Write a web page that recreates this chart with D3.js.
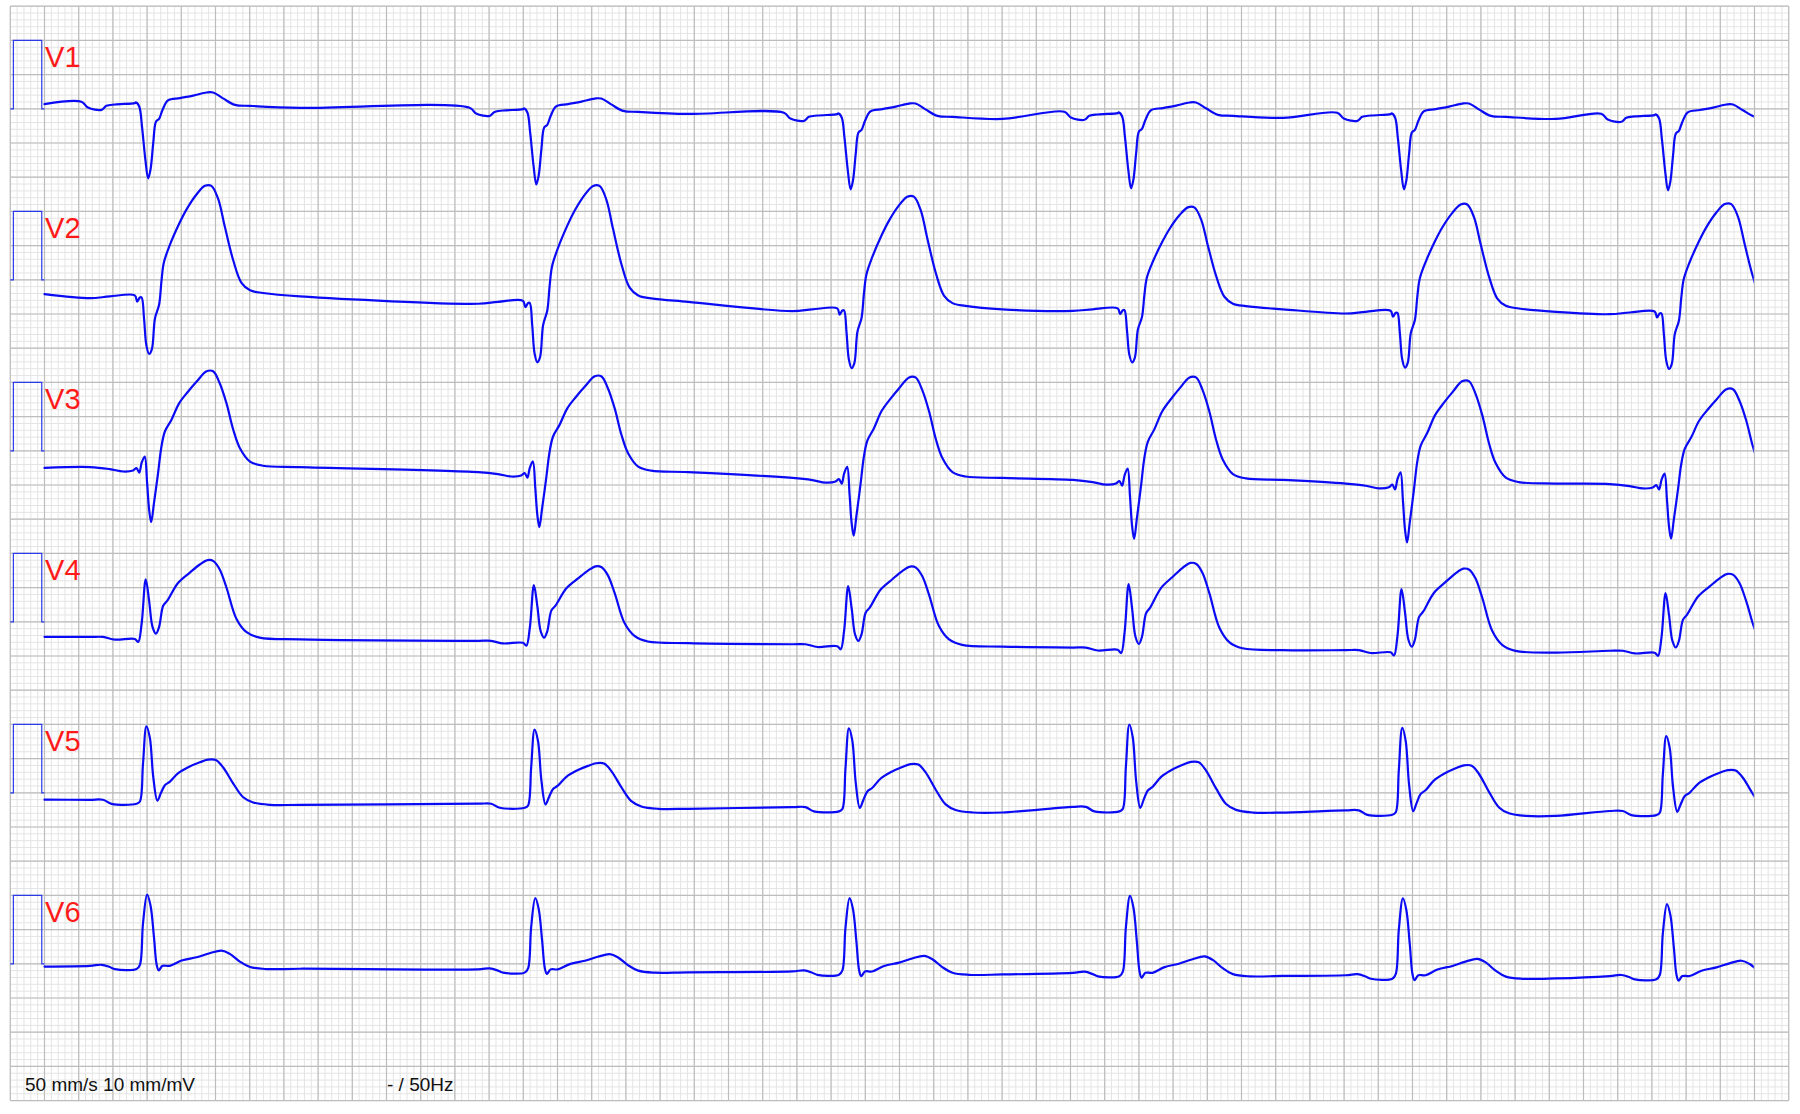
<!DOCTYPE html>
<html><head><meta charset="utf-8">
<script src="https://cdn.jsdelivr.net/npm/d3@7"></script>
<style>html,body{margin:0;padding:0;background:#fff}</style>
</head><body>
<svg id="c" width="1800" height="1114"></svg>
<script>
// ---------- data ----------
const leadNames = ["V1","V2","V3","V4","V5","V6"];
const beatTimes = [0.403, 1.538, 2.457, 3.277, 4.075, 4.847];   // s, QRS fiducial
const traceStartTime = 0.1;
const traceEndTime = 5.098;
const startValues = [0.069, -0.21, -0.25, -0.22, -0.10, -0.04]; // mV at trace start
const calPulse = [[0,0],[0.009,0],[0.009,1],[0.092,1],[0.092,0],[0.1,0]];

// beat templates: [ms from QRS, mV relative to beat baseline]
const templateV1 = [[-195,0.03],[-176,-0.055],[-136,-0.088],[-122,-0.03],[-97,-0.01],[-39,0.01],[-36,0.02],[-26,-0.04],[-18,-0.33],[-8,-0.82],[0,-1.09],[7,-0.96],[15,-0.57],[23,-0.26],[32,-0.22],[42,-0.09],[58,0.05],[93,0.084],[132,0.12],[171,0.165],[190,0.165],[219,0.08],[254,-0.015],[298,-0.03],[444,-0.06]];
const templateV2 = [[-170,-0.04],[-112,-0.015],[-39,0],[-32,-0.088],[-24,-0.03],[-19,-0.03],[-12,-0.33],[-5,-0.72],[3,-0.84],[11,-0.77],[20,-0.33],[32,-0.135],[39,0.205],[46,0.47],[63,0.716],[91,1.03],[112,1.23],[142,1.45],[166,1.57],[185,1.57],[205,1.38],[224,0.99],[249,0.50],[273,0.18],[298,0.073],[336,0.034],[444,-0.015]];
const templateV3 = [[-170,0.04],[-112,0.01],[-73,-0.025],[-44,-0.01],[-34,0.025],[-26,-0.04],[-19,0.10],[-10,0.195],[-3,-0.19],[3,-0.585],[9,-0.765],[17,-0.49],[29,-0.05],[39,0.34],[49,0.56],[68,0.73],[91,0.975],[117,1.145],[142,1.29],[171,1.44],[190,1.44],[209,1.27],[229,0.975],[249,0.585],[268,0.32],[298,0.12],[336,0.06],[444,0.04]];
const templateV4 = [[-170,0.03],[-132,0.03],[-97,-0.01],[-39,0],[-29,-0.044],[-19,0.225],[-7,0.88],[3,0.56],[13,0.175],[23,0.078],[32,0.175],[44,0.49],[56,0.565],[88,0.83],[122,0.98],[151,1.10],[174,1.165],[191,1.15],[209,1.03],[229,0.76],[258,0.30],[288,0.10],[326,0.02],[444,-0.005]];
const templateV5 = [[-170,0.06],[-132,0.06],[-107,0],[-34,0],[-24,0.034],[-15,0.595],[-5,1.155],[5,0.985],[15,0.40],[27,0.048],[37,0.156],[49,0.278],[63,0.326],[88,0.458],[117,0.546],[151,0.619],[175,0.658],[198,0.653],[219,0.546],[249,0.302],[278,0.098],[307,0.02],[356,-0.015],[444,-0.015]];
const templateV6 = [[-170,0.048],[-136,0.063],[-112,0.03],[-97,0],[-34,0],[-24,0.063],[-15,0.672],[-3,1.10],[7,0.94],[17,0.475],[25,0.063],[31,-0.02],[42,0.048],[63,0.048],[98,0.126],[142,0.175],[180,0.234],[215,0.272],[239,0.224],[268,0.111],[298,0.03],[346,0],[444,0.005]];

// per-beat baseline (mV, relative to calibration level)
const baselinesV1 = [0.073, -0.015, -0.088, -0.073, -0.088, -0.102];
const baselinesV2 = [-0.228, -0.307, -0.417, -0.417, -0.453, -0.463];
const baselinesV3 = [-0.278, -0.351, -0.439, -0.468, -0.522, -0.526];
const baselinesV4 = [-0.251, -0.307, -0.358, -0.409, -0.446, -0.453];
const baselinesV5 = [-0.161, -0.219, -0.272, -0.272, -0.322, -0.326];
const baselinesV6 = [-0.077, -0.129, -0.161, -0.183, -0.219, -0.227];

// per-beat amplitude factor
const ampV1 = [1, 1, 1, 1, 1, 1];
const ampV2 = [1.02, 1.07, 1.04, 0.94, 0.99, 1.0];
const ampV3 = [1.0, 1.0, 1.05, 1.07, 1.07, 0.99];
const ampV4 = [0.99, 0.96, 1.0, 1.09, 1.05, 0.99];
const ampV5 = [0.98, 0.99, 1.05, 1.1, 1.1, 1.0];
const ampV6 = [0.99, 0.99, 1.02, 1.07, 1.07, 1.0];

const footerLeft = "50 mm/s 10 mm/mV";
const footerRight = "- / 50Hz";

// ---------- layout ----------
const sq = 34.2;               // one big square (0.1 s, 0.5 mV)
const gx0 = 10.3, gy0 = 6.2;
const nCols = 52, nRows = 32;
const leadGap = 2.5;           // mV between lead baselines

const templates = [templateV1, templateV2, templateV3, templateV4, templateV5, templateV6];
const baselines = [baselinesV1, baselinesV2, baselinesV3, baselinesV4, baselinesV5, baselinesV6];
const amps = [ampV1, ampV2, ampV3, ampV4, ampV5, ampV6];

const x = d3.scaleLinear().domain([0, nCols * 0.1]).range([gx0, gx0 + nCols * sq]);
const y = d3.scaleLinear().domain([1.5, 1.5 - nRows * 0.5]).range([gy0, gy0 + nRows * sq]);

const svg = d3.select("#c");
svg.append("rect").attr("width", 1800).attr("height", 1114).attr("fill", "#fff");

// grid
const grid = svg.append("g");
const minorT = d3.range(0, nCols * 5 + 1).map(i => i * 0.02);
const minorV = d3.range(0, nRows * 5 + 1).map(i => 1.5 - i * 0.1);
const majorT = d3.range(0, nCols + 1).map(i => i * 0.1);
const majorV = d3.range(0, nRows + 1).map(i => 1.5 - i * 0.5);

grid.selectAll("line.mt").data(minorT).join("line")
  .attr("x1", d => x(d)).attr("x2", d => x(d)).attr("y1", y.range()[0]).attr("y2", y.range()[1])
  .attr("stroke", "#e4e4e4").attr("stroke-width", 1);
grid.selectAll("line.mv").data(minorV).join("line")
  .attr("y1", d => y(d)).attr("y2", d => y(d)).attr("x1", x.range()[0]).attr("x2", x.range()[1])
  .attr("stroke", "#e4e4e4").attr("stroke-width", 1);
const gMaj = svg.append("g");
gMaj.selectAll("line").data(majorT).join("line")
  .attr("x1", d => x(d)).attr("x2", d => x(d)).attr("y1", y.range()[0]).attr("y2", y.range()[1])
  .attr("stroke", "#bdbdbd").attr("stroke-width", 1.2);
const gMaj2 = svg.append("g");
gMaj2.selectAll("line").data(majorV).join("line")
  .attr("y1", d => y(d)).attr("y2", d => y(d)).attr("x1", x.range()[0]).attr("x2", x.range()[1])
  .attr("stroke", "#bdbdbd").attr("stroke-width", 1.2);

// clip for traces
svg.append("clipPath").attr("id", "tclip").append("rect")
  .attr("x", x(traceStartTime) - 2).attr("y", 0)
  .attr("width", x(traceEndTime) - x(traceStartTime) + 2).attr("height", 1114);

const line = d3.line().x(d => x(d[0])).y(d => y(d[1])).curve(d3.curveCatmullRom.alpha(0.5));
const calLine = d3.line().x(d => x(d[0])).y(d => y(d[1]));

leadNames.forEach((name, i) => {
  const off = -i * leadGap;
  // calibration pulse
  svg.append("path")
    .attr("d", calLine(calPulse.map(p => [p[0], p[1] + off])))
    .attr("fill", "none").attr("stroke", "#2b3be6").attr("stroke-width", 1.2);
  // label
  svg.append("text")
    .attr("x", x(0.1017)).attr("y", y(off + 0.604))
    .attr("fill", "#ff1a1a").attr("font-family", "Liberation Sans, Arial, sans-serif")
    .attr("font-size", 29).text(name);
  // trace points
  const pts = [[traceStartTime, startValues[i] + off]];
  beatTimes.forEach((bt, b) => {
    templates[i].forEach(p => {
      pts.push([bt + p[0] / 1000, baselines[i][b] + p[1] * amps[i][b] + off]);
    });
  });
  svg.append("path")
    .attr("clip-path", "url(#tclip)")
    .attr("d", line(pts))
    .attr("fill", "none").attr("stroke", "#0a0af5").attr("stroke-width", 2.2)
    .attr("stroke-linejoin", "round").attr("stroke-linecap", "round");
});

// footer
svg.append("text").attr("x", 25).attr("y", 1091)
  .attr("font-family", "Liberation Sans, Arial, sans-serif").attr("font-size", 19)
  .attr("fill", "#111").text(footerLeft);
svg.append("text").attr("x", 387).attr("y", 1091)
  .attr("font-family", "Liberation Sans, Arial, sans-serif").attr("font-size", 19)
  .attr("fill", "#111").text(footerRight);
</script>
</body></html>
